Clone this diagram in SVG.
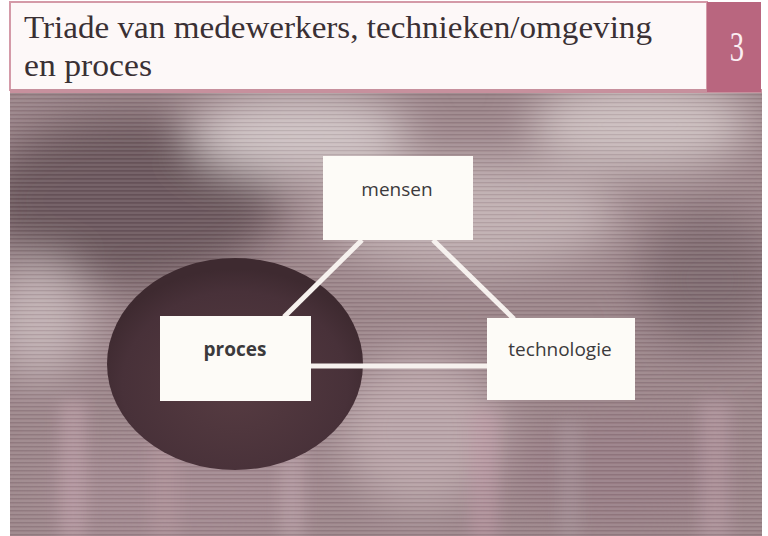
<svg xmlns="http://www.w3.org/2000/svg" width="768" height="536" viewBox="0 0 768 536">
  <defs>
    <style>
      .title { font-family: "Liberation Serif", "DejaVu Serif", serif; font-size: 32px; fill: #3a3034; }
      .num { font-family: "Liberation Serif", "DejaVu Serif", serif; font-size: 42px; fill: #fbeef2; }
      .box { fill: #fdfbf7; }
      .label { font-family: "Open Sans", "DejaVu Sans", sans-serif; font-size: 19px; fill: #3c3a3c; text-anchor: middle; }
      .bold { font-weight: bold; }
      .link { stroke: #f6f1ee; stroke-width: 5; stroke-linecap: butt; }
    </style>
    <clipPath id="photoClip">
      <rect x="10" y="92" width="752" height="444"/>
    </clipPath>
    <pattern id="hlines" width="6" height="4" patternUnits="userSpaceOnUse">
      <rect width="6" height="2" fill="#ffffff" opacity="0.08"/>
      <rect y="2" width="6" height="1" fill="#402a30" opacity="0.10"/>
    </pattern>
    <radialGradient id="disc" cx="0.5" cy="0.6" r="0.55">
      <stop offset="0" stop-color="#573c42"/>
      <stop offset="0.8" stop-color="#483139"/>
      <stop offset="1" stop-color="#3e2a30"/>
    </radialGradient>
    <filter id="soft" x="-30%" y="-30%" width="160%" height="160%">
      <feGaussianBlur stdDeviation="22"/>
    </filter>
    <filter id="softer" x="-30%" y="-30%" width="160%" height="160%">
      <feGaussianBlur stdDeviation="8"/>
    </filter>
  </defs>

  <rect width="768" height="536" fill="#ffffff"/>

  <!-- photographic backdrop -->
  <g id="backdrop" clip-path="url(#photoClip)">
    <rect x="10" y="92" width="752" height="444" fill="#9a8388"/>
    <g filter="url(#soft)">
      <ellipse cx="130" cy="200" rx="150" ry="85" fill="#6a565b"/>
      <ellipse cx="300" cy="135" rx="110" ry="40" fill="#cfc3c4"/>
      <ellipse cx="470" cy="215" rx="150" ry="55" fill="#bfaeb0"/>
      <ellipse cx="640" cy="125" rx="110" ry="45" fill="#cbbdbe"/>
      <ellipse cx="710" cy="280" rx="70" ry="70" fill="#7f6a6f"/>
      <ellipse cx="40" cy="320" rx="50" ry="60" fill="#bfaeb1"/>
      <ellipse cx="420" cy="430" rx="80" ry="80" fill="#b9a4a8"/>
      <ellipse cx="620" cy="470" rx="120" ry="60" fill="#977d84"/>
      <ellipse cx="180" cy="490" rx="140" ry="50" fill="#a2888f"/>
    </g>
    <g opacity="0.45" filter="url(#softer)">
      <rect x="60" y="400" width="26" height="140" fill="#c9a7b2"/>
      <rect x="150" y="410" width="30" height="130" fill="#b6969f"/>
      <rect x="280" y="420" width="24" height="120" fill="#c5aab2"/>
      <rect x="470" y="410" width="28" height="130" fill="#c39aa8"/>
      <rect x="560" y="420" width="20" height="120" fill="#aa9ba0"/>
      <rect x="700" y="400" width="30" height="140" fill="#bfa0aa"/>
    </g>
    <rect x="10" y="92" width="752" height="444" fill="url(#hlines)"/>
  </g>

  <!-- process disc -->
  <ellipse id="disc-shape" cx="235" cy="364" rx="128" ry="106" fill="url(#disc)"/>

  <!-- header -->
  <g id="header">
    <rect x="10" y="2" width="697" height="88" fill="#fdf8f8" stroke="#d49aa8" stroke-width="2"/>
    <rect x="10" y="89" width="752" height="4" fill="#c7909d"/>
    <text class="title" x="24" y="38" textLength="628" lengthAdjust="spacingAndGlyphs">Triade van medewerkers, technieken/omgeving</text>
    <text class="title" x="24" y="76" textLength="128" lengthAdjust="spacingAndGlyphs">en proces</text>
  </g>
  <g id="chapter">
    <rect x="707" y="2" width="54" height="90" fill="#b9667f"/>
    <text class="num" transform="translate(737 61) scale(0.68 1)" text-anchor="middle">3</text>
  </g>

  <!-- connectors -->
  <g id="connectors">
    <line class="link" x1="362" y1="240" x2="284" y2="317"/>
    <line class="link" x1="433" y1="240" x2="514" y2="319"/>
    <line class="link" x1="311" y1="366" x2="487" y2="366"/>
  </g>

  <!-- nodes -->
  <g id="mensen">
    <rect class="box" x="323" y="156" width="150" height="84"/>
    <text class="label" x="397" y="196">mensen</text>
  </g>
  <g id="proces">
    <rect class="box" x="160" y="316" width="151" height="85"/>
    <text class="label bold" x="235" y="356">proces</text>
  </g>
  <g id="technologie">
    <rect class="box" x="487" y="318" width="148" height="82"/>
    <text class="label" x="560" y="356">technologie</text>
  </g>
</svg>
